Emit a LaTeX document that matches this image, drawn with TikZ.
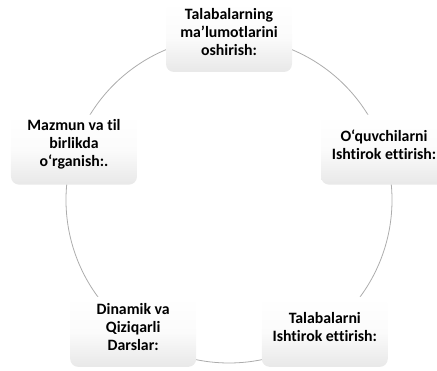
\documentclass[tikz,border=0pt]{standalone}
\usepackage{fontspec}
\setmainfont[Ligatures=NoCommon]{Carlito}
\usepackage{tikz}
\usetikzlibrary{calc,backgrounds}
\usepackage{xcolor}

\begin{document}
\begin{tikzpicture}[
  x=1pt, y=1pt,
  kbox/.style={rounded corners=8pt, minimum width=126pt, minimum height=70pt,
    top color=white, bottom color=gray!18, middle color=white!97!gray, inner sep=0pt},
  ktext/.style={font=\fontsize{15.8}{18}\selectfont\bfseries, align=center,
    text=black, yshift=5pt},
  ring/.style={draw=gray!65, line width=0.8pt}
]
\useasboundingbox (0,0) rectangle (437,371);

% centre of the ring
\coordinate (c) at (229,171);

% the five boxes
\node[kbox, label={[ktext]center:{Talabalarning\\ma’lumotlarini\\oshirish:}}]
  (talaba) at ($(c)+(90:163)$) {};
\node[kbox, label={[ktext]center:{O‘quvchilarni\\Ishtirok ettirish:}}]
  (oquv) at ($(c)+(18:163)$) {};
\node[kbox, label={[ktext]center:{Talabalarni\\Ishtirok ettirish:}}]
  (ishtirok) at ($(c)+(-54:163)$) {};
\node[kbox, label={[ktext]center:{Dinamik va\\Qiziqarli\\Darslar:}}]
  (dinamik) at ($(c)+(-126:163)$) {};
\node[kbox, label={[ktext]center:{Mazmun va til\\birlikda\\o‘rganish:.}}]
  (mazmun) at ($(c)+(162:163)$) {};

% ring behind the boxes
\begin{scope}[on background layer]
  \draw[ring] (talaba.center) arc[start angle=90, end angle=18, radius=163];
  \draw[ring] (oquv.center) arc[start angle=18, end angle=-54, radius=163];
  \draw[ring] (ishtirok.center) arc[start angle=-54, end angle=-126, radius=163];
  \draw[ring] (dinamik.center) arc[start angle=-126, end angle=-198, radius=163];
  \draw[ring] (mazmun.center) arc[start angle=162, end angle=90, radius=163];
\end{scope}

\end{tikzpicture}
\end{document}
